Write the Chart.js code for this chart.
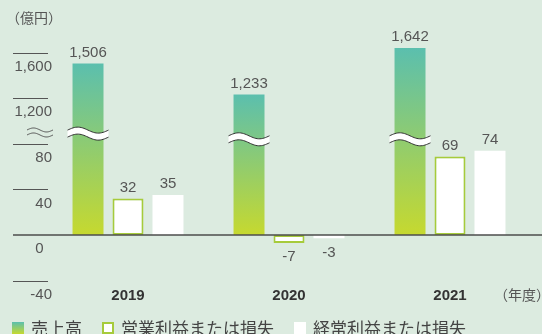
<!DOCTYPE html>
<html lang="ja">
<head>
<meta charset="UTF-8">
<title>売上高・営業利益・経常利益</title>
<script src="https://cdn.jsdelivr.net/npm/chart.js"></script>
<style>
  html, body { margin: 0; padding: 0; }
  body {
    width: 542px;
    height: 334px;
    overflow: hidden;
    background: #dcebe0;
  }
  .wrap { position: relative; width: 542px; height: 334px; }
  .legend {
    position: absolute;
    left: 12px;
    top: 318px;
    display: flex;
    align-items: center;
    font-family: "Noto Sans CJK JP", sans-serif;
    font-size: 17px;
    line-height: 20px;
    color: #444;
    white-space: nowrap;
  }
  .legend span.box {
    display: inline-block;
    width: 12px;
    height: 12px;
    margin-right: 7px;
    box-sizing: border-box;
  }
  .legend .item { display: flex; align-items: center; margin-right: 20px; }
  .box.sales { background: linear-gradient(#5bbfae, #c6d92f); }
  .box.op { background: #fff; border: 2px solid #a6cb3b; }
  .box.ord { background: #fff; }
</style>
</head>
<body>
<div class="wrap">
  <canvas id="chart"></canvas>
  <div class="legend">
    <div class="item"><span class="box sales"></span>売上高</div>
    <div class="item"><span class="box op"></span>営業利益または損失</div>
    <div class="item"><span class="box ord"></span>経常利益または損失</div>
  </div>
</div>

<script>
  const years = ['2019', '2020', '2021'];
  const sales = [1506, 1233, 1642];
  const operating = [32, -7, 69];
  const ordinary = [35, -3, 74];
  const tickValues = [-40, 0, 40, 80, 1200, 1600];

  // broken axis: values above the break are compressed 10:1
  function toAxis(v) {
    return v >= 1000 ? 120 + (v - 1200) / 10 : v;
  }
  function fmt(v) {
    return v.toLocaleString('en-US');
  }

  const numFont = '"Liberation Sans", Arial, sans-serif';
  const breakAt = [89, 84, 84];

  function salesGradient(context) {
    const chart = context.chart;
    const y = chart.scales.y;
    if (!chart.chartArea || !y) return '#8fc77f';
    const top = y.getPixelForValue(context.raw);
    const bottom = y.getPixelForValue(0);
    const g = chart.ctx.createLinearGradient(0, top, 0, bottom);
    g.addColorStop(0, '#5bbfae');
    g.addColorStop(1, '#c6d92f');
    return g;
  }

  function wave(ctx, x0, x1, yc, amp) {
    const n = 30;
    for (let i = 0; i <= n; i++) {
      const x = x0 + (x1 - x0) * i / n;
      const y = yc - amp * Math.sin(2 * Math.PI * i / n);
      if (i === 0) ctx.moveTo(x, y); else ctx.lineTo(x, y);
    }
  }

  const decorations = {
    id: 'decorations',
    beforeDatasetsDraw(chart) {
      const ctx = chart.ctx;
      const y = chart.scales.y;
      ctx.save();
      ctx.strokeStyle = '#555';
      ctx.lineWidth = 1;
      tickValues.forEach(v => {
        if (v === 0) return;
        const py = Math.round(y.getPixelForValue(toAxis(v))) + 0.5;
        ctx.beginPath();
        ctx.moveTo(13, py);
        ctx.lineTo(48, py);
        ctx.stroke();
      });
      // axis break mark
      const by = y.getPixelForValue(90);
      ctx.beginPath();
      wave(ctx, 27, 53, by - 2.5, 2);
      ctx.stroke();
      ctx.beginPath();
      wave(ctx, 27, 53, by + 2.5, 2);
      ctx.stroke();

      // unit captions
      ctx.fillStyle = '#555';
      ctx.font = '14px "Noto Sans CJK JP", sans-serif';
      ctx.textBaseline = 'middle';
      ctx.textAlign = 'left';
      ctx.fillText('（億円）', 6, 18);
      ctx.fillText('（年度）', 494, 295);
      ctx.restore();
    },
    afterDatasetsDraw(chart) {
      const ctx = chart.ctx;
      const y = chart.scales.y;
      ctx.save();
      // zero line
      const zy = y.getPixelForValue(0);
      ctx.strokeStyle = '#4d4d4d';
      ctx.lineWidth = 1.5;
      ctx.beginPath();
      ctx.moveTo(13, zy);
      ctx.lineTo(542, zy);
      ctx.stroke();

      // break bands on sales bars
      chart.getDatasetMeta(0).data.forEach((bar, i) => {
        const yc = y.getPixelForValue(breakAt[i]);
        const x0 = bar.x - bar.width / 2 - 5;
        const x1 = bar.x + bar.width / 2 + 5;
        ctx.beginPath();
        wave(ctx, x0, x1, yc - 3.5, 3);
        for (let k = 30; k >= 0; k--) {
          const x = x0 + (x1 - x0) * k / 30;
          ctx.lineTo(x, yc + 3.5 - 3 * Math.sin(2 * Math.PI * k / 30));
        }
        ctx.closePath();
        ctx.fillStyle = '#fff';
        ctx.fill();
        ctx.strokeStyle = '#333';
        ctx.lineWidth = 1;
        ctx.beginPath();
        wave(ctx, x0, x1, yc - 3.5, 3);
        ctx.stroke();
        ctx.beginPath();
        wave(ctx, x0, x1, yc + 3.5, 3);
        ctx.stroke();
      });

      // value labels
      const raw = [sales, operating, ordinary];
      ctx.fillStyle = '#555';
      ctx.font = '15px ' + numFont;
      ctx.textAlign = 'center';
      ctx.textBaseline = 'middle';
      raw.forEach((vals, d) => {
        chart.getDatasetMeta(d).data.forEach((bar, i) => {
          const v = vals[i];
          const ly = v >= 0 ? bar.y - 11 : bar.y + 14;
          ctx.fillText(fmt(v), bar.x, ly);
        });
      });
      ctx.restore();
    }
  };

  new Chart(document.getElementById('chart').getContext('2d'), {
    type: 'bar',
    data: {
      labels: years,
      datasets: [
        {
          label: '売上高',
          data: sales.map(toAxis),
          backgroundColor: salesGradient,
          borderWidth: 0
        },
        {
          label: '営業利益または損失',
          data: operating,
          backgroundColor: '#fff',
          borderColor: '#a6cb3b',
          borderWidth: 2,
          borderSkipped: false
        },
        {
          label: '経常利益または損失',
          data: ordinary,
          backgroundColor: '#fff',
          borderWidth: 0
        }
      ]
    },
    options: {
      responsive: true,
      maintainAspectRatio: false,
      animation: false,
      categoryPercentage: 0.745,
      barPercentage: 0.775,
      layout: { padding: { top: 30, right: 11.5, bottom: 29.5, left: 0 } },
      plugins: {
        legend: { display: false },
        tooltip: { enabled: false }
      },
      scales: {
        x: {
          grid: { display: false, drawTicks: false },
          border: { display: false },
          ticks: {
            color: '#333',
            padding: 6,
            font: { family: numFont, size: 15, weight: 'bold' }
          },
          afterFit(scale) { scale.height = 24; }
        },
        y: {
          min: -40,
          max: 180,
          grid: { display: false, drawTicks: false },
          border: { display: false },
          afterBuildTicks(scale) {
            scale.ticks = tickValues.map(v => ({ value: toAxis(v) }));
          },
          afterFit(scale) { scale.width = 47.5; },
          ticks: {
            color: '#555',
            mirror: true,
            crossAlign: 'far',
            padding: -33,
            labelOffset: 14,
            font: { family: numFont, size: 15 },
            callback: (val, i) => tickValues[i] === 0 ? '0  ' : fmt(tickValues[i])
          }
        }
      }
    },
    plugins: [decorations]
  });
</script>
</body>
</html>
